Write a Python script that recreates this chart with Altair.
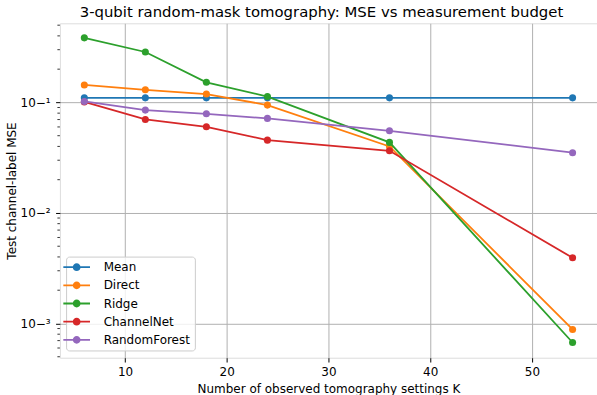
import altair as alt
import pandas as pd

# Number of observed tomography settings
K = [6, 12, 18, 24, 36, 54]

# Test channel-label MSE per method
methods = ["Mean", "Direct", "Ridge", "ChannelNet", "RandomForest"]
mse_mean = [0.110, 0.110, 0.110, 0.110, 0.110, 0.110]
mse_direct = [0.144, 0.130, 0.119, 0.0946, 0.0400, 0.000883]
mse_ridge = [0.384, 0.286, 0.152, 0.113, 0.0435, 0.000673]
mse_channelnet = [0.101, 0.0702, 0.0602, 0.0456, 0.0365, 0.00393]
mse_forest = [0.102, 0.0852, 0.0789, 0.0717, 0.0554, 0.0351]
colors = ["#1f77b4", "#ff7f0e", "#2ca02c", "#d62728", "#9467bd"]

x_ticks = [10, 20, 30, 40, 50]
y_major = [0.001, 0.01, 0.1]
y_minor = [0.0005, 0.0006, 0.0007, 0.0008, 0.0009,
           0.002, 0.003, 0.004, 0.005, 0.006, 0.007, 0.008, 0.009,
           0.02, 0.03, 0.04, 0.05, 0.06, 0.07, 0.08, 0.09,
           0.2, 0.3, 0.4, 0.5]

series = [mse_mean, mse_direct, mse_ridge, mse_channelnet, mse_forest]
df = pd.DataFrame(
    [{"K": k, "mse": v, "method": m} for m, vals in zip(methods, series) for k, v in zip(K, vals)]
)
minor_df = pd.DataFrame({"v": y_minor})

FONT = "DejaVu Sans"
FS = 12.0

x_scale = alt.Scale(domain=[3.6, 56.4], nice=False, zero=False)
y_scale = alt.Scale(type="log", domain=[0.00049, 0.52], nice=False)

x_axis = alt.Axis(
    values=x_ticks, title="Number of observed tomography settings K",
    grid=True, gridColor="#b0b0b0", gridWidth=1.0, domain=False,
    tickColor="black", tickWidth=1.0, tickSize=4.3,
    labelFont=FONT, labelFontSize=FS, labelColor="black", labelPadding=4.5,
    titleFont=FONT, titleFontSize=FS, titleFontWeight="normal", titleColor="black",
    titleBaseline="alphabetic", titleY=34.5,
)
y_axis = alt.Axis(
    values=y_major, title="Test channel-label MSE",
    labelExpr="'10' + replace(replace(replace(replace(format(round(log(datum.value)/LN10), 'd'), '-', '⁻'), '1', '¹'), '2', '²'), '3', '³')",
    grid=True, gridColor="#b0b0b0", gridWidth=1.0, domain=False,
    tickColor="black", tickWidth=1.0, tickSize=4.3,
    labelFont=FONT, labelFontSize=FS, labelColor="black", labelPadding=5.5,
    titleFont=FONT, titleFontSize=FS, titleFontWeight="normal", titleColor="black",
    titleBaseline="alphabetic", titleX=-44,
)


def x_enc():
    return alt.X("K:Q", scale=x_scale, axis=x_axis)


def y_enc(field):
    return alt.Y(f"{field}:Q", scale=y_scale, axis=y_axis)


# legend glyph: a short line with a dot in the middle
s = 0.235
r = 1.0
L = 3.42
c = 0.97
legend_path = (
    f"M{-L},{-s}L{-c},{-s}L{-c},{s}L{-L},{s}Z"
    f"M{r},0A{r},{r} 0 1,1 {-r},0A{r},{r} 0 1,1 {r},0Z"
    f"M{c},{-s}L{L},{-s}L{L},{s}L{c},{s}Z"
)

legend = alt.Legend(
    title=None, orient="none", legendX=6.2, legendY=233.7,
    symbolType=legend_path, symbolSize=61, symbolOpacity=1, symbolStrokeWidth=0,
    labelFont=FONT, labelFontSize=FS, labelColor="black", labelOffset=21,
    rowPadding=6.2, padding=4.6,
    fillColor="rgba(255,255,255,0.8)", strokeColor="#cccccc",
    cornerRadius=3,
)

color_enc = alt.Color(
    "method:N", scale=alt.Scale(domain=methods, range=colors), legend=legend, sort=methods
)

layers = []
minor = alt.Chart(minor_df).mark_rule(color="black", strokeWidth=0.8).encode(
    y=y_enc("v"), x=alt.value(-2.5), x2=alt.value(0)
)
layers.append(minor)

for name, col in zip(methods, colors):
    sub = df[df["method"] == name]
    line = alt.Chart(sub).mark_line(color=col, strokeWidth=1.8).encode(
        x=x_enc(), y=y_enc("mse")
    )
    pts = alt.Chart(sub).mark_circle(size=50, opacity=1).encode(
        x=x_enc(), y=y_enc("mse"), color=color_enc
    )
    layers += [line, pts]

chart = alt.layer(*layers).properties(
    width=538, height=335,
    title=alt.TitleParams(
        text="3-qubit random-mask tomography: MSE vs measurement budget",
        font=FONT, fontSize=14.9, fontWeight="normal", color="black",
        anchor="middle", frame="group", baseline="alphabetic", offset=7.3,
        dy=16, dx=-7,
    ),
    autosize=alt.AutoSizeParams(type="none"),
    padding={"left": 60, "top": 23, "right": 0, "bottom": 37},
).configure_view(stroke="black", strokeWidth=1.0).configure(background="white")

chart.save("out.html", embed_options={"renderer": "svg", "actions": False})
